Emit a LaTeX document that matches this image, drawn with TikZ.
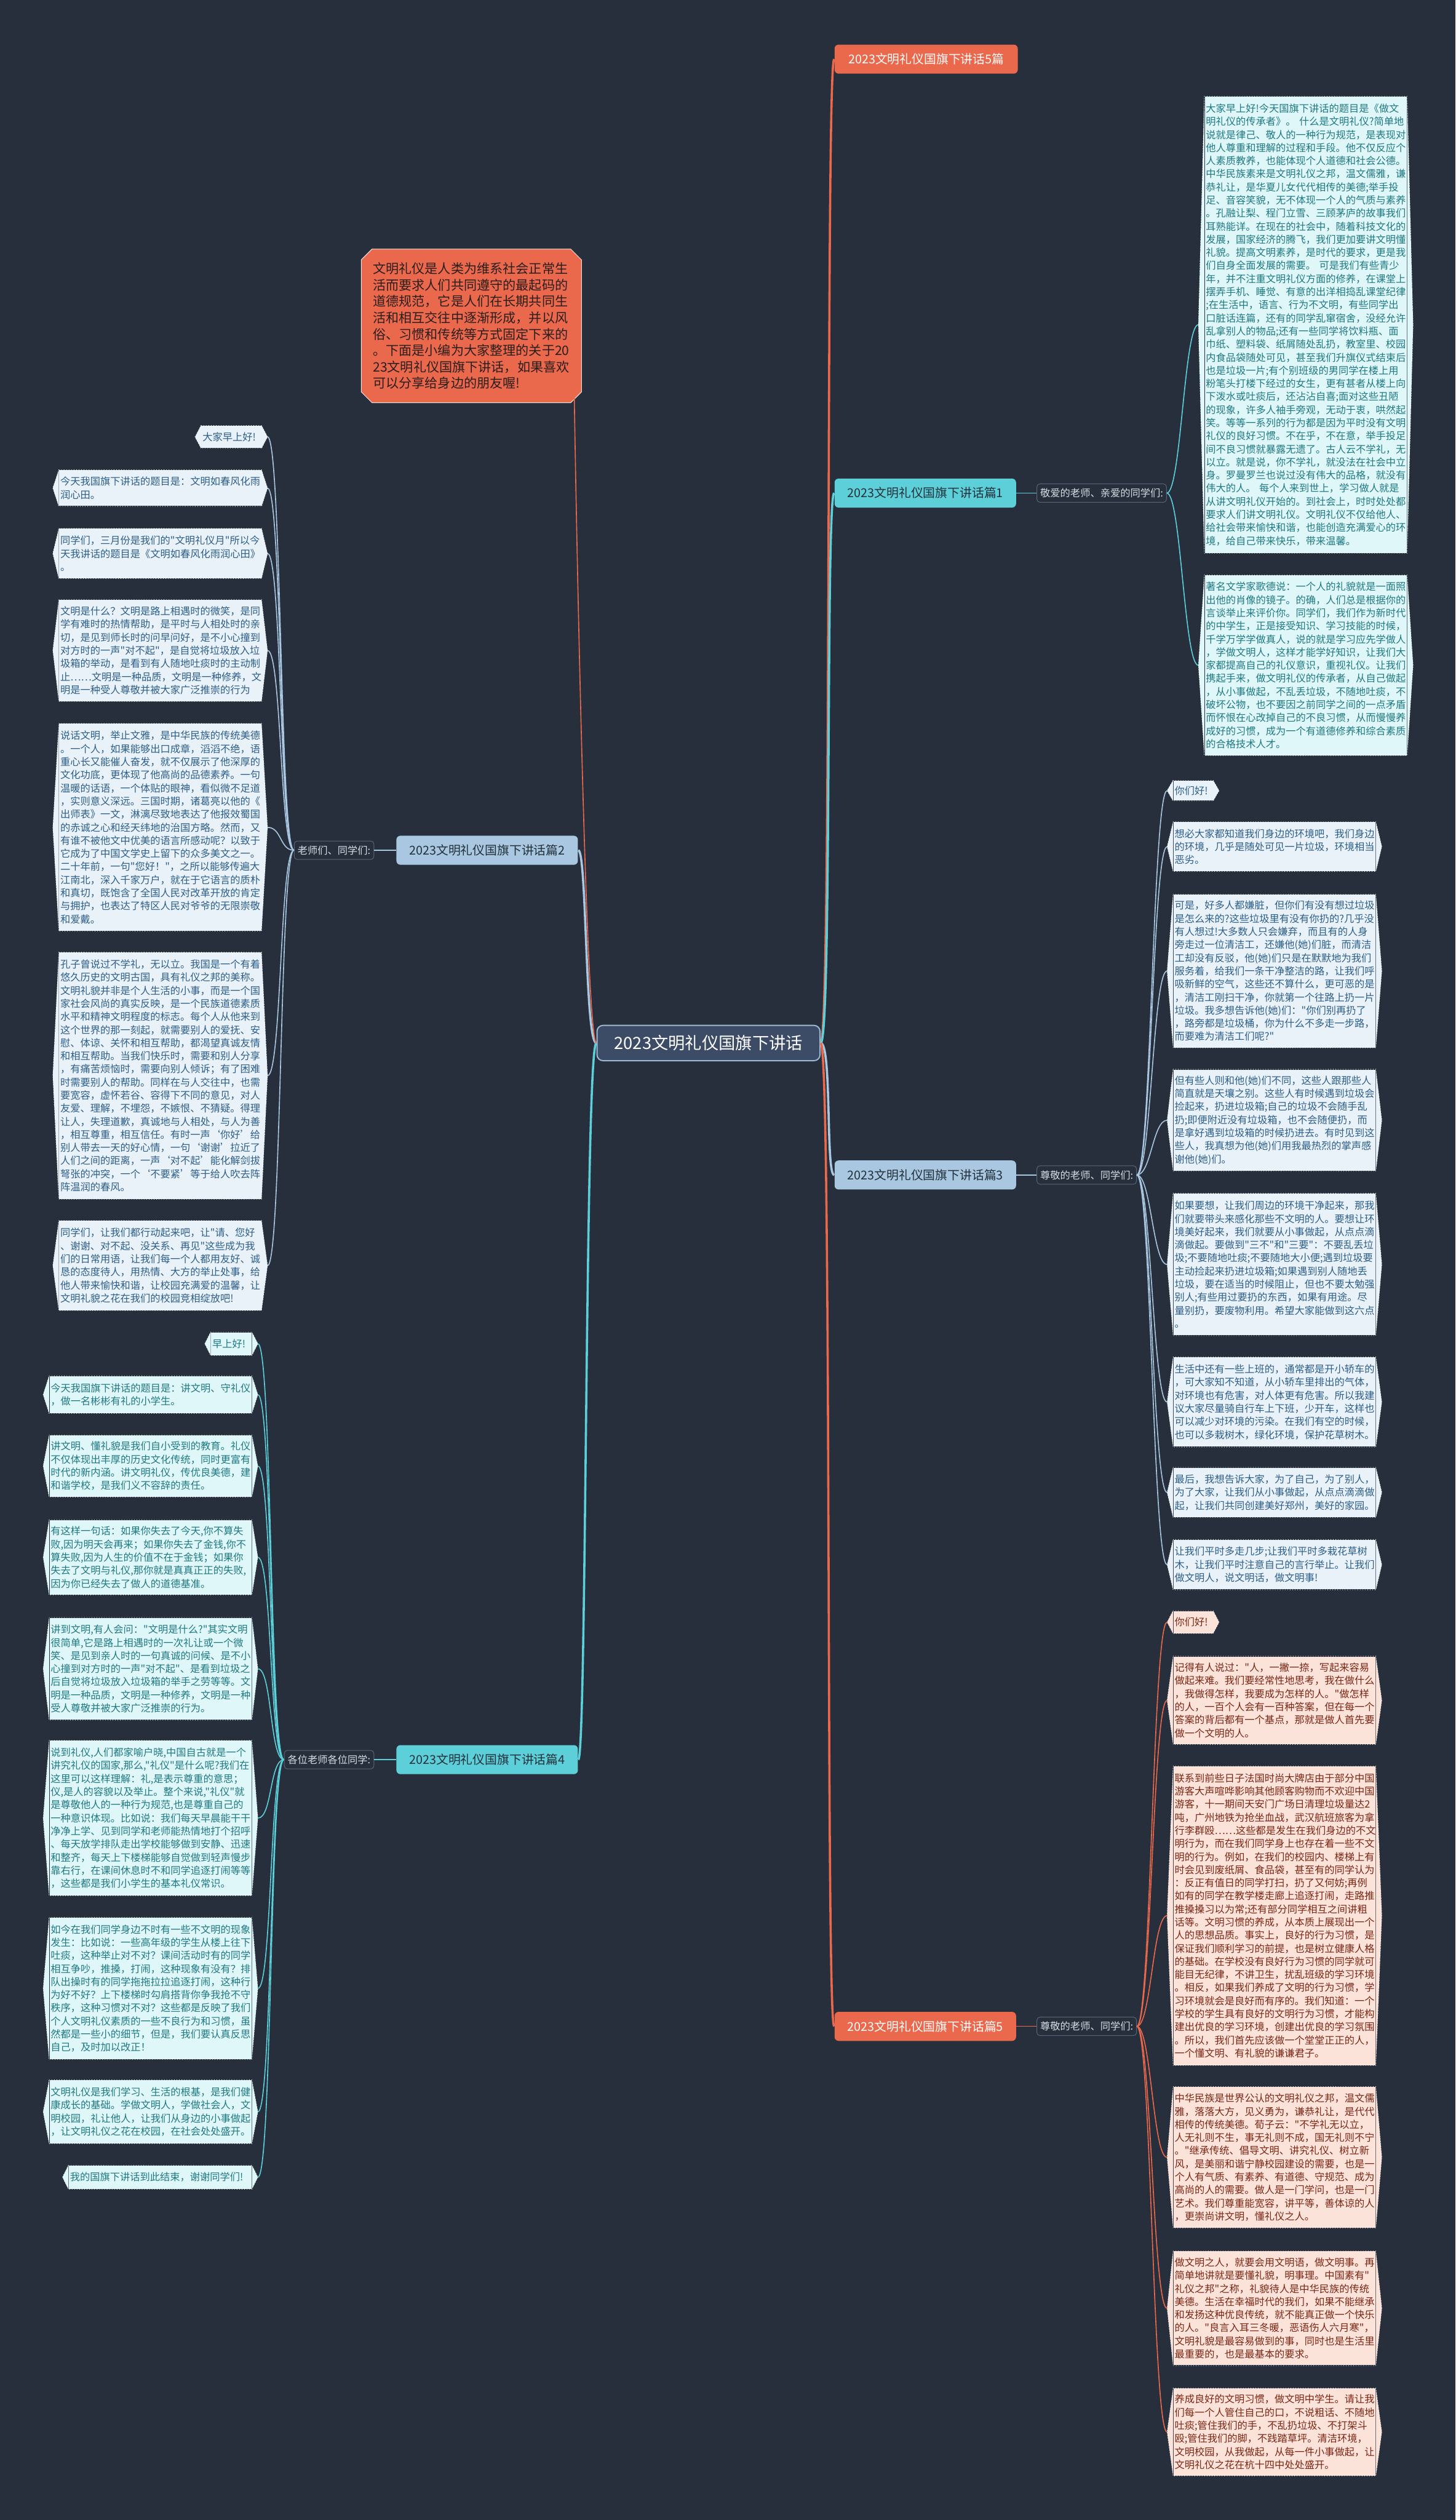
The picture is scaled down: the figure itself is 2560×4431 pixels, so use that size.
\documentclass[tikz,border=0pt]{standalone}
\usepackage{fontspec}
\newfontfamily\cjk{Noto Sans CJK SC}
\usetikzlibrary{shapes.misc}

\definecolor{cBg}{HTML}{272F3C}
\definecolor{cCoral}{HTML}{EA684C}
\definecolor{cCoralKid}{HTML}{FCE3DA}
\definecolor{cCoralInk}{HTML}{7A2614}
\definecolor{cCyanMain}{HTML}{5CCFD9}
\definecolor{cCyanKid}{HTML}{E0F7F9}
\definecolor{cCyanInk}{HTML}{1E7981}
\definecolor{cBlueMain}{HTML}{A9C7E0}
\definecolor{cBlueKid}{HTML}{E9F2F9}
\definecolor{cBlueInk}{HTML}{2D5E88}
\definecolor{cCenter}{HTML}{3C4C66}
\definecolor{cCenterLine}{HTML}{9DB9D4}
\definecolor{cDark}{HTML}{22303A}
\definecolor{cTag}{HTML}{D5DCE4}
\definecolor{cTagLine}{HTML}{5A6677}
\definecolor{cNoteInk}{HTML}{2A1E1C}

\tikzset{
  kid/.style={rectangle, inner xsep=0.02cm, inner ysep=0.03cm, text width=3.51cm,
    align=left, font=\cjk\fontsize{5}{6.55}\selectfont},
  kidblue/.style={kid, fill=cBlueKid, text=cBlueInk},
  kidcyan/.style={kid, fill=cCyanKid, text=cCyanInk},
  kidcoral/.style={kid, fill=cCoralKid, text=cCoralInk},
  topic/.style={rectangle, rounded corners=2pt, minimum width=3.19cm, minimum height=0.51cm,
    font=\cjk\fontsize{6.1}{7}\selectfont},
  tag/.style={font=\cjk\fontsize{5}{6}\selectfont, text=cTag, inner xsep=0.06cm, inner ysep=0.08cm,
    draw=cTagLine, line width=0.3pt, rounded corners=1.5pt},
  link/.style={line width=0.5pt},
  trunk/.style={line width=1.1pt},
}

\begin{document}
\begin{tikzpicture}[x=0.01cm, y=-0.01cm]
  % page, measured in pixels of the reference (y downwards)
  \fill[cBg] (0,0) rectangle (2560,4431);

  % centre and main topics
  \node[draw=cCenterLine, fill=cCenter, line width=0.6pt, rounded corners=3pt,
    minimum width=3.92cm, minimum height=0.62cm, text=white,
    font=\cjk\fontsize{8.4}{9}\selectfont] (c) at (1246,1834) {2023文明礼仪国旗下讲话};

  \node[chamfered rectangle, chamfered rectangle xsep=2.5pt, fill=cCoral, draw=cCoralKid,
    line width=0.3pt, minimum width=3.82cm, minimum height=2.70cm, text width=3.46cm,
    align=left, text=cNoteInk, font=\cjk\fontsize{6.5}{8.2}\selectfont] (note) at (829,573)
    {文明礼仪是人类为维系社会正常生\\活而要求人们共同遵守的最起码的\\道德规范，它是人们在长期共同生\\活和相互交往中逐渐形成，并以风\\俗、习惯和传统等方式固定下来的\\。下面是小编为大家整理的关于20\\23文明礼仪国旗下讲话，如果喜欢\\可以分享给身边的朋友喔!};

  \node[topic, fill=cCoral, text=white, anchor=west, minimum width=3.22cm] (p0) at (1467,104) {2023文明礼仪国旗下讲话5篇};
  \node[topic, fill=cCyanMain, text=cDark, anchor=west] (p1) at (1467,867) {2023文明礼仪国旗下讲话篇1};
  \node[topic, fill=cBlueMain, text=cDark, anchor=east] (p2) at (1017,1495) {2023文明礼仪国旗下讲话篇2};
  \node[topic, fill=cBlueMain, text=cDark, anchor=west] (p3) at (1467,2066) {2023文明礼仪国旗下讲话篇3};
  \node[topic, fill=cCyanMain, text=cDark, anchor=east] (p4) at (1017,3094) {2023文明礼仪国旗下讲话篇4};
  \node[topic, fill=cCoral, text=white, anchor=west] (p5) at (1467,3563) {2023文明礼仪国旗下讲话篇5};

  \node[tag, anchor=west] (l1) at (1823,867) {敬爱的老师、亲爱的同学们:};
  \node[tag, anchor=east] (l2) at (658,1495) {老师们、同学们:};
  \node[tag, anchor=west] (l3) at (1823,2066) {尊敬的老师、同学们:};
  \node[tag, anchor=east] (l4) at (658,3094) {各位老师各位同学:};
  \node[tag, anchor=west] (l5) at (1823,3563) {尊敬的老师、同学们:};

  % part 1
  \node[kidcyan, anchor=north west, minimum height=8.02cm] (b1c1) at (2118,169)
    {大家早上好!今天国旗下讲话的题目是《做文\\明礼仪的传承者》。~什么是文明礼仪?简单地\\说就是律己、敬人的一种行为规范，是表现对\\他人尊重和理解的过程和手段。他不仅反应个\\人素质教养，也能体现个人道德和社会公德。\\中华民族素来是文明礼仪之邦，温文儒雅，谦\\恭礼让，是华夏儿女代代相传的美德;举手投\\足、音容笑貌，无不体现一个人的气质与素养\\。孔融让梨、程门立雪、三顾茅庐的故事我们\\耳熟能详。在现在的社会中，随着科技文化的\\发展，国家经济的腾飞，我们更加要讲文明懂\\礼貌。提高文明素养，是时代的要求，更是我\\们自身全面发展的需要。~可是我们有些青少\\年，并不注重文明礼仪方面的修养，在课堂上\\摆弄手机、睡觉、有意的出洋相捣乱课堂纪律\\;在生活中，语言、行为不文明，有些同学出\\口脏话连篇，还有的同学乱窜宿舍，没经允许\\乱拿别人的物品;还有一些同学将饮料瓶、面\\巾纸、塑料袋、纸屑随处乱扔，教室里、校园\\内食品袋随处可见，甚至我们升旗仪式结束后\\也是垃圾一片;有个别班级的男同学在楼上用\\粉笔头打楼下经过的女生，更有甚者从楼上向\\下泼水或吐痰后，还沾沾自喜;面对这些丑陋\\的现象，许多人袖手旁观，无动于衷，哄然起\\笑。等等一系列的行为都是因为平时没有文明\\礼仪的良好习惯。不在乎，不在意，举手投足\\间不良习惯就暴露无遗了。古人云不学礼，无\\以立。就是说，你不学礼，就没法在社会中立\\身。罗曼罗兰也说过没有伟大的品格，就没有\\伟大的人。~每个人来到世上，学习做人就是\\从讲文明礼仪开始的。到社会上，时时处处都\\要求人们讲文明礼仪。文明礼仪不仅给他人、\\给社会带来愉快和谐，也能创造充满爱心的环\\境，给自己带来快乐，带来温馨。};
  \node[kidcyan, anchor=north west, minimum height=3.16cm] (b1c2) at (2118,1011)
    {著名文学家歌德说：一个人的礼貌就是一面照\\出他的肖像的镜子。的确，人们总是根据你的\\言谈举止来评价你。同学们，我们作为新时代\\的中学生，正是接受知识、学习技能的时候，\\千学万学学做真人，说的就是学习应先学做人\\，学做文明人，这样才能学好知识，让我们大\\家都提高自己的礼仪意识，重视礼仪。让我们\\携起手来，做文明礼仪的传承者，从自己做起\\，从小事做起，不乱丢垃圾，不随地吐痰，不\\破坏公物，也不要因之前同学之间的一点矛盾\\而怀恨在心改掉自己的不良习惯，从而慢慢养\\成好的习惯，成为一个有道德修养和综合素质\\的合格技术人才。};

  % part 2
  \node[kidblue, anchor=north east, minimum height=0.39cm, text width=1.01cm] (b2c1) at (460,748) {大家早上好!};
  \node[kidblue, anchor=north east, minimum height=0.63cm] (b2c2) at (460,826)
    {今天我国旗下讲话的题目是：文明如春风化雨\\润心田。};
  \node[kidblue, anchor=north east, minimum height=0.87cm] (b2c3) at (460,929)
    {同学们，三月份是我们的"文明礼仪月"所以今\\天我讲话的题目是《文明如春风化雨润心田》\\。};
  \node[kidblue, anchor=north east, minimum height=1.78cm] (b2c4) at (460,1054)
    {文明是什么？文明是路上相遇时的微笑，是同\\学有难时的热情帮助，是平时与人相处时的亲\\切，是见到师长时的问早问好，是不小心撞到\\对方时的一声"对不起"，是自觉将垃圾放入垃\\圾箱的举动，是看到有人随地吐痰时的主动制\\止……文明是一种品质，文明是一种修养，文\\明是一种受人尊敬并被大家广泛推崇的行为};
  \node[kidblue, anchor=north east, minimum height=3.64cm] (b2c5) at (460,1272)
    {说话文明，举止文雅，是中华民族的传统美德\\。一个人，如果能够出口成章，滔滔不绝，语\\重心长又能催人奋发，就不仅展示了他深厚的\\文化功底，更体现了他高尚的品德素养。一句\\温暖的话语，一个体贴的眼神，看似微不足道\\，实则意义深远。三国时期，诸葛亮以他的《\\出师表》一文，淋漓尽致地表达了他报效蜀国\\的赤诚之心和经天纬地的治国方略。然而，又\\有谁不被他文中优美的语言所感动呢？以致于\\它成为了中国文学史上留下的众多美文之一。\\二十年前，一句"您好！"，之所以能够传遍大\\江南北，深入千家万户，就在于它语言的质朴\\和真切，既饱含了全国人民对改革开放的肯定\\与拥护，也表达了特区人民对爷爷的无限崇敬\\和爱戴。};
  \node[kidblue, anchor=north east, minimum height=4.33cm] (b2c6) at (460,1674)
    {孔子曾说过不学礼，无以立。我国是一个有着\\悠久历史的文明古国，具有礼仪之邦的美称。\\文明礼貌并非是个人生活的小事，而是一个国\\家社会风尚的真实反映，是一个民族道德素质\\水平和精神文明程度的标志。每个人从他来到\\这个世界的那一刻起，就需要别人的爱抚、安\\慰、体谅、关怀和相互帮助，都渴望真诚友情\\和相互帮助。当我们快乐时，需要和别人分享\\，有痛苦烦恼时，需要向别人倾诉；有了困难\\时需要别人的帮助。同样在与人交往中，也需\\要宽容，虚怀若谷、容得下不同的意见，对人\\友爱、理解，不埋怨，不嫉恨、不猜疑。得理\\让人，失理道歉，真诚地与人相处，与人为善\\，相互尊重，相互信任。有时一声‘你好’给\\别人带去一天的好心情，一句‘谢谢’拉近了\\人们之间的距离，一声‘对不起’能化解剑拔\\弩张的冲突，一个‘不要紧’等于给人吹去阵\\阵温润的春风。};
  \node[kidblue, anchor=north east, minimum height=1.57cm] (b2c7) at (460,2146)
    {同学们，让我们都行动起来吧，让"请、您好\\、谢谢、对不起、没关系、再见"这些成为我\\们的日常用语，让我们每一个人都用友好、诚\\恳的态度待人，用热情、大方的举止处事，给\\他人带来愉快和谐，让校园充满爱的温馨，让\\文明礼貌之花在我们的校园竞相绽放吧!};

  % part 3
  \node[kidblue, anchor=north west, minimum height=0.35cm, text width=0.65cm] (b3c1) at (2063,1372) {你们好!};
  \node[kidblue, anchor=north west, minimum height=0.86cm] (b3c2) at (2063,1445)
    {想必大家都知道我们身边的环境吧，我们身边\\的环境，几乎是随处可见一片垃圾，环境相当\\恶劣。};
  \node[kidblue, anchor=north west, minimum height=2.69cm] (b3c3) at (2063,1572)
    {可是，好多人都嫌脏，但你们有没有想过垃圾\\是怎么来的?这些垃圾里有没有你扔的?几乎没\\有人想过!大多数人只会嫌弃，而且有的人身\\旁走过一位清洁工，还嫌他(她)们脏，而清洁\\工却没有反驳，他(她)们只是在默默地为我们\\服务着，给我们一条干净整洁的路，让我们呼\\吸新鲜的空气，这些还不算什么，更可恶的是\\，清洁工刚扫干净，你就第一个往路上扔一片\\垃圾。我多想告诉他(她)们："你们别再扔了\\，路旁都是垃圾桶，你为什么不多走一步路，\\而要难为清洁工们呢?"};
  \node[kidblue, anchor=north west, minimum height=1.78cm] (b3c4) at (2063,1880)
    {但有些人则和他(她)们不同，这些人跟那些人\\简直就是天壤之别。这些人有时候遇到垃圾会\\捡起来，扔进垃圾箱;自己的垃圾不会随手乱\\扔;即便附近没有垃圾箱，也不会随便扔，而\\是拿好遇到垃圾箱的时候扔进去。有时见到这\\些人，我真想为他(她)们用我最热烈的掌声感\\谢他(她)们。};
  \node[kidblue, anchor=north west, minimum height=2.49cm] (b3c5) at (2063,2098)
    {如果要想，让我们周边的环境干净起来，那我\\们就要带头来感化那些不文明的人。要想让环\\境美好起来，我们就要从小事做起，从点点滴\\滴做起。要做到"三不"和"三要"：不要乱丢垃\\圾;不要随地吐痰;不要随地大小便;遇到垃圾要\\主动捡起来扔进垃圾箱;如果遇到别人随地丢\\垃圾，要在适当的时候阻止，但也不要太勉强\\别人;有些用过要扔的东西，如果有用途。尽\\量别扔，要废物利用。希望大家能做到这六点\\。};
  \node[kidblue, anchor=north west, minimum height=1.57cm] (b3c6) at (2063,2386)
    {生活中还有一些上班的，通常都是开小轿车的\\，可大家知不知道，从小轿车里排出的气体，\\对环境也有危害，对人体更有危害。所以我建\\议大家尽量骑自行车上下班，少开车，这样也\\可以减少对环境的污染。在我们有空的时候，\\也可以多栽树木，绿化环境，保护花草树木。};
  \node[kidblue, anchor=north west, minimum height=0.87cm] (b3c7) at (2063,2580)
    {最后，我想告诉大家，为了自己，为了别人，\\为了大家，让我们从小事做起，从点点滴滴做\\起，让我们共同创建美好郑州，美好的家园。};
  \node[kidblue, anchor=north west, minimum height=0.87cm] (b3c8) at (2063,2707)
    {让我们平时多走几步;让我们平时多栽花草树\\木，让我们平时注意自己的言行举止。让我们\\做文明人，说文明话，做文明事!};

  % part 4
  \node[kidcyan, anchor=north east, minimum height=0.40cm, text width=0.67cm] (b4c1) at (443,2342) {早上好!};
  \node[kidcyan, anchor=north east, minimum height=0.65cm] (b4c2) at (443,2419)
    {今天我国旗下讲话的题目是：讲文明、守礼仪\\，做一名彬彬有礼的小学生。};
  \node[kidcyan, anchor=north east, minimum height=1.08cm] (b4c3) at (443,2523)
    {讲文明、懂礼貌是我们自小受到的教育。礼仪\\不仅体现出丰厚的历史文化传统，同时更富有\\时代的新内涵。讲文明礼仪，传优良美德，建\\和谐学校，是我们义不容辞的责任。};
  \node[kidcyan, anchor=north east, minimum height=1.31cm] (b4c4) at (443,2672)
    {有这样一句话：如果你失去了今天,你不算失\\败,因为明天会再来；如果你失去了金钱,你不\\算失败,因为人生的价值不在于金钱；如果你\\失去了文明与礼仪,那你就是真真正正的失败,\\因为你已经失去了做人的道德基准。};
  \node[kidcyan, anchor=north east, minimum height=1.79cm] (b4c5) at (443,2844)
    {讲到文明,有人会问："文明是什么?"其实文明\\很简单,它是路上相遇时的一次礼让或一个微\\笑、是见到亲人时的一句真诚的问候、是不小\\心撞到对方时的一声"对不起"、是看到垃圾之\\后自觉将垃圾放入垃圾箱的举手之劳等等。文\\明是一种品质，文明是一种修养，文明是一种\\受人尊敬并被大家广泛推崇的行为。};
  \node[kidcyan, anchor=north east, minimum height=2.72cm] (b4c6) at (443,3060)
    {说到礼仪,人们都家喻户晓,中国自古就是一个\\讲究礼仪的国家,那么,"礼仪"是什么呢?我们在\\这里可以这样理解：礼,是表示尊重的意思；\\仪,是人的容貌以及举止。整个来说,"礼仪"就\\是尊敬他人的一种行为规范,也是尊重自己的\\一种意识体现。比如说：我们每天早晨能干干\\净净上学、见到同学和老师能热情地打个招呼\\、每天放学排队走出学校能够做到安静、迅速\\和整齐，每天上下楼梯能够自觉做到轻声慢步\\靠右行，在课间休息时不和同学追逐打闹等等\\，这些都是我们小学生的基本礼仪常识。};
  \node[kidcyan, anchor=north east, minimum height=2.49cm] (b4c7) at (443,3371)
    {如今在我们同学身边不时有一些不文明的现象\\发生：比如说：一些高年级的学生从楼上往下\\吐痰，这种举止对不对？课间活动时有的同学\\相互争吵，推搡，打闹，这种现象有没有？排\\队出操时有的同学拖拖拉拉追逐打闹，这种行\\为好不好？上下楼梯时勾肩搭背你争我抢不守\\秩序，这种习惯对不对？这些都是反映了我们\\个人文明礼仪素质的一些不良行为和习惯，虽\\然都是一些小的细节，但是，我们要认真反思\\自己，及时加以改正！};
  \node[kidcyan, anchor=north east, minimum height=1.11cm] (b4c8) at (443,3657)
    {文明礼仪是我们学习、生活的根基，是我们健\\康成长的基础。学做文明人，学做社会人，文\\明校园，礼让他人，让我们从身边的小事做起\\，让文明礼仪之花在校园，在社会处处盛开。};
  \node[kidcyan, anchor=north east, minimum height=0.41cm, text width=3.17cm] (b4c9) at (443,3807)
    {我的国旗下讲话到此结束，谢谢同学们!};

  % part 5
  \node[kidcoral, anchor=north west, minimum height=0.39cm, text width=0.65cm] (b5c1) at (2063,2832) {你们好!};
  \node[kidcoral, anchor=north west, minimum height=1.54cm] (b5c2) at (2063,2912)
    {记得有人说过："人，一撇一捺，写起来容易\\做起来难。我们要经常性地思考，我在做什么\\，我做得怎样，我要成为怎样的人。"做怎样\\的人，一百个人会有一百种答案，但在每一个\\答案的背后都有一个基点，那就是做人首先要\\做一个文明的人。};
  \node[kidcoral, anchor=north west, minimum height=5.25cm] (b5c3) at (2063,3105)
    {联系到前些日子法国时尚大牌店由于部分中国\\游客大声喧哗影响其他顾客购物而不欢迎中国\\游客，十一期间天安门广场日清理垃圾量达2\\吨，广州地铁为抢坐血战，武汉航班旅客为拿\\行李群殴……这些都是发生在我们身边的不文\\明行为，而在我们同学身上也存在着一些不文\\明的行为。例如，在我们的校园内、楼梯上有\\时会见到废纸屑、食品袋，甚至有的同学认为\\：反正有值日的同学打扫，扔了又何妨;再例\\如有的同学在教学楼走廊上追逐打闹，走路推\\推搡搡习以为常;还有部分同学相互之间讲粗\\话等。文明习惯的养成，从本质上展现出一个\\人的思想品质。事实上，良好的行为习惯，是\\保证我们顺利学习的前提，也是树立健康人格\\的基础。在学校没有良好行为习惯的同学就可\\能目无纪律，不讲卫生，扰乱班级的学习环境\\。相反，如果我们养成了文明的行为习惯，学\\习环境就会是良好而有序的。我们知道：一个\\学校的学生具有良好的文明行为习惯，才能构\\建出优良的学习环境，创建出优良的学习氛围\\。所以，我们首先应该做一个堂堂正正的人，\\一个懂文明、有礼貌的谦谦君子。};
  \node[kidcoral, anchor=north west, minimum height=2.47cm] (b5c4) at (2063,3669)
    {中华民族是世界公认的文明礼仪之邦，温文儒\\雅，落落大方，见义勇为，谦恭礼让，是代代\\相传的传统美德。荀子云："不学礼无以立，\\人无礼则不生，事无礼则不成，国无礼则不宁\\。"继承传统、倡导文明、讲究礼仪、树立新\\风，是美丽和谐宁静校园建设的需要，也是一\\个人有气质、有素养、有道德、守规范、成为\\高尚的人的需要。做人是一门学问，也是一门\\艺术。我们尊重能宽容，讲平等，善体谅的人\\，更崇尚讲文明，懂礼仪之人。};
  \node[kidcoral, anchor=north west, minimum height=2.00cm] (b5c5) at (2063,3958)
    {做文明之人，就要会用文明语，做文明事。再\\简单地讲就是要懂礼貌，明事理。中国素有"\\礼仪之邦"之称，礼貌待人是中华民族的传统\\美德。生活在幸福时代的我们，如果不能继承\\和发扬这种优良传统，就不能真正做一个快乐\\的人。"良言入耳三冬暖，恶语伤人六月寒"，\\文明礼貌是最容易做到的事，同时也是生活里\\最重要的，也是最基本的要求。};
  \node[kidcoral, anchor=north west, minimum height=1.53cm] (b5c6) at (2063,4199)
    {养成良好的文明习惯，做文明中学生。请让我\\们每一个人管住自己的口，不说粗话、不随地\\吐痰;管住我们的手，不乱扔垃圾、不打架斗\\殴;管住我们的脚，不践踏草坪。清洁环境，\\文明校园，从我做起，从每一件小事做起，让\\文明礼仪之花在杭十四中处处盛开。};

  % pointed sides of the text boxes
  \foreach \n/\c in {b1c1/cCyanKid,b1c2/cCyanKid,b2c1/cBlueKid,b2c2/cBlueKid,b2c3/cBlueKid,
      b2c4/cBlueKid,b2c5/cBlueKid,b2c6/cBlueKid,b2c7/cBlueKid,b3c1/cBlueKid,b3c2/cBlueKid,
      b3c3/cBlueKid,b3c4/cBlueKid,b3c5/cBlueKid,b3c6/cBlueKid,b3c7/cBlueKid,b3c8/cBlueKid,
      b4c1/cCyanKid,b4c2/cCyanKid,b4c3/cCyanKid,b4c4/cCyanKid,b4c5/cCyanKid,b4c6/cCyanKid,
      b4c7/cCyanKid,b4c8/cCyanKid,b4c9/cCyanKid,b5c1/cCoralKid,b5c2/cCoralKid,b5c3/cCoralKid,
      b5c4/cCoralKid,b5c5/cCoralKid,b5c6/cCoralKid}{
    \fill[\c] (\n.north west) -- ([xshift=-3pt]\n.west) -- (\n.south west) -- cycle;
    \fill[\c] (\n.north east) -- ([xshift=3pt]\n.east) -- (\n.south east) -- cycle;
    \draw[white, densely dotted, line width=0.25pt] (\n.north west) -- (\n.north east)
      -- ([xshift=3pt]\n.east) -- (\n.south east) -- (\n.south west) -- ([xshift=-3pt]\n.west) -- cycle;
  }

  % connectors from the centre
  \draw[trunk, cCoral] (c.east) .. controls +(20,0) and +(-15,0) .. (p0.west);
  \draw[trunk, cCyanMain] (c.east) .. controls +(20,0) and +(-15,0) .. (p1.west);
  \draw[trunk, cBlueMain] (c.east) .. controls +(20,0) and +(-15,0) .. (p3.west);
  \draw[trunk, cCoral] (c.east) .. controls +(20,0) and +(-15,0) .. (p5.west);
  \draw[trunk, cBlueMain] (c.west) .. controls +(-20,0) and +(15,0) .. (p2.east);
  \draw[trunk, cCyanMain] (c.west) .. controls +(-20,0) and +(15,0) .. (p4.east);
  \draw[link, cCoral] (c.west) .. controls +(-20,0) and +(0,20) .. ([xshift=-1pt]note.south east);

  % topics to greetings
  \draw[link, cCyanMain] (p1.east) -- (l1.west);
  \draw[link, cBlueMain] (p2.west) -- (l2.east);
  \draw[link, cBlueMain] (p3.east) -- (l3.west);
  \draw[link, cCyanMain] (p4.west) -- (l4.east);
  \draw[link, cCoral] (p5.east) -- (l5.west);

  % greetings to text boxes
  \foreach \k in {b1c1,b1c2}
    \draw[link, cCyanMain] (l1.east) .. controls +(25,0) and +(-25,0) .. ([xshift=-3pt]\k.west);
  \foreach \k in {b3c1,b3c2,b3c3,b3c4,b3c5,b3c6,b3c7,b3c8}
    \draw[link, cBlueMain] (l3.east) .. controls +(25,0) and +(-25,0) .. ([xshift=-3pt]\k.west);
  \foreach \k in {b5c1,b5c2,b5c3,b5c4,b5c5,b5c6}
    \draw[link, cCoral] (l5.east) .. controls +(25,0) and +(-25,0) .. ([xshift=-3pt]\k.west);
  \foreach \k in {b2c1,b2c2,b2c3,b2c4,b2c5,b2c6,b2c7}
    \draw[link, cBlueMain] (l2.west) .. controls +(-25,0) and +(25,0) .. ([xshift=3pt]\k.east);
  \foreach \k in {b4c1,b4c2,b4c3,b4c4,b4c5,b4c6,b4c7,b4c8,b4c9}
    \draw[link, cCyanMain] (l4.west) .. controls +(-25,0) and +(25,0) .. ([xshift=3pt]\k.east);
\end{tikzpicture}
\end{document}
